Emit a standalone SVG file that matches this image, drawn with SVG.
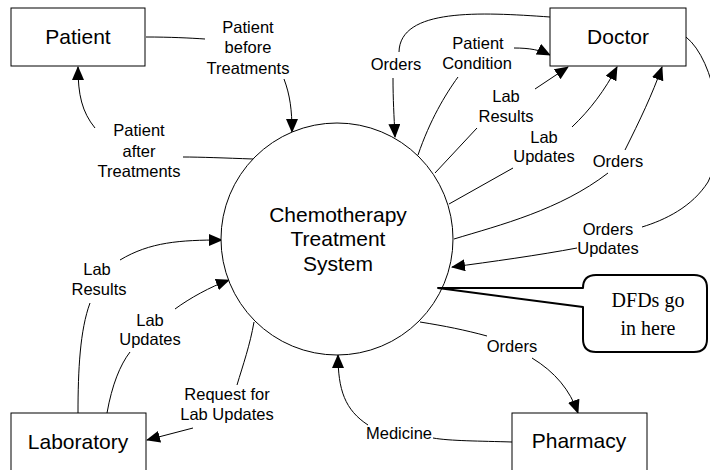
<svg xmlns="http://www.w3.org/2000/svg" width="710" height="470" viewBox="0 0 710 470">
<defs>
<marker id="ah" markerUnits="userSpaceOnUse" markerWidth="14" markerHeight="12" viewBox="0 0 14 12" refX="13" refY="6" orient="auto">
<path d="M0,0 L14,6 L0,12 Z" fill="#000"/>
</marker>
</defs>
<style>
.box{fill:#fff;stroke:#000;stroke-width:1}
.node{font-family:"Liberation Sans",Arial,sans-serif;font-size:21px;fill:#000;text-anchor:middle}
.lbl{font-family:"Liberation Sans",Arial,sans-serif;font-size:16.5px;fill:#000;text-anchor:middle}
.c{fill:none;stroke:#000;stroke-width:1}
.a{fill:none;stroke:#000;stroke-width:1;marker-end:url(#ah)}
.note{font-family:"Liberation Serif","Times New Roman",serif;font-size:20px;fill:#000;text-anchor:middle}
</style>
<rect width="710" height="470" fill="#fff"/>
<g id="connectors">
<path class="c" d="M146,37 C170,37 190,38 205,39"/>
<path class="a" d="M284,79 C290,95 292,110 292,132"/>
<path class="c" d="M253,159 C225,158 200,157 183,157"/>
<path class="a" d="M95,128 C82,112 78,95 78,67"/>
<path class="c" d="M550,17 C480,12 400,8 399,52"/>
<path class="a" d="M393,78 C393,100 394,115 395,137"/>
<path class="c" d="M418,155 C430,120 445,95 458,77"/>
<path class="a" d="M514,48 C530,48 540,50 550,55"/>
<path class="c" d="M435,173 L477,128"/>
<path class="a" d="M535,89 L568,67"/>
<path class="c" d="M449,204 L513,168"/>
<path class="a" d="M572,127 C590,110 605,90 617,67"/>
<path class="c" d="M454,239 C500,225 560,210 608,173"/>
<path class="a" d="M625,150 C640,120 652,95 662,67"/>
<path class="c" d="M686,37 C715,60 730,140 708,182 C692,207 665,220 642,227"/>
<path class="a" d="M577,248 C540,255 490,262 452,267"/>
<path class="c" d="M78,413 C78,370 80,330 90,303"/>
<path class="a" d="M120,260 C150,242 180,240 222,240"/>
<path class="c" d="M107,413 C112,385 120,365 130,352"/>
<path class="a" d="M175,309 C190,298 210,287 229,280"/>
<path class="c" d="M254,322 C250,345 243,365 237,385"/>
<path class="a" d="M193,428 L147,440"/>
<path class="c" d="M420,322 C445,326 465,330 487,336"/>
<path class="a" d="M532,358 C555,372 570,390 578,413"/>
<path class="c" d="M512,442 C480,441 450,441 433,438"/>
<path class="a" d="M368,425 C345,410 338,390 338,355"/>
</g>
<g id="labels">
<text class="lbl" x="248" y="33">Patient</text>
<text class="lbl" x="248" y="53">before</text>
<text class="lbl" x="248" y="74">Treatments</text>
<text class="lbl" x="139" y="136">Patient</text>
<text class="lbl" x="139" y="157">after</text>
<text class="lbl" x="139" y="177">Treatments</text>
<text class="lbl" x="396" y="70">Orders</text>
<text class="lbl" x="478" y="49">Patient</text>
<text class="lbl" x="477" y="69">Condition</text>
<text class="lbl" x="506" y="102">Lab</text>
<text class="lbl" x="506" y="122">Results</text>
<text class="lbl" x="544" y="143">Lab</text>
<text class="lbl" x="544" y="162">Updates</text>
<text class="lbl" x="618" y="167">Orders</text>
<text class="lbl" x="608" y="235">Orders</text>
<text class="lbl" x="608" y="254">Updates</text>
<text class="lbl" x="97" y="275">Lab</text>
<text class="lbl" x="99" y="295">Results</text>
<text class="lbl" x="150" y="326">Lab</text>
<text class="lbl" x="150" y="345">Updates</text>
<text class="lbl" x="227" y="400">Request for</text>
<text class="lbl" x="227" y="420">Lab Updates</text>
<text class="lbl" x="512" y="352">Orders</text>
<text class="lbl" x="399" y="439">Medicine</text>
</g>
<g id="system">
<circle cx="337" cy="239" r="116" fill="#fff" stroke="#000" stroke-width="1"/>
<text class="node" x="338" y="222">Chemotherapy</text>
<text class="node" x="338" y="246">Treatment</text>
<text class="node" x="338" y="271">System</text>
</g>
<g id="patient">
<rect class="box" x="11" y="8" width="134" height="58"/>
<text class="node" x="78" y="44">Patient</text>
</g>
<g id="doctor">
<rect class="box" x="550" y="8" width="136" height="58"/>
<text class="node" x="618" y="44">Doctor</text>
</g>
<g id="laboratory">
<rect class="box" x="11" y="413" width="135" height="70"/>
<text class="node" x="78" y="449">Laboratory</text>
</g>
<g id="pharmacy">
<rect class="box" x="512" y="413" width="135" height="70"/>
<text class="node" x="579" y="448">Pharmacy</text>
</g>
<g id="callout">
<path d="M438,288 L583,288 Q583,275 596,275 L694,275 Q707,275 707,288 L707,339 Q707,352 694,352 L596,352 Q583,352 583,339 L583,307 Z" fill="#fff" stroke="#000" stroke-width="2" stroke-linejoin="round"/>
<text class="note" x="648" y="307">DFDs go</text>
<text class="note" x="648" y="335">in here</text>
</g>
</svg>
